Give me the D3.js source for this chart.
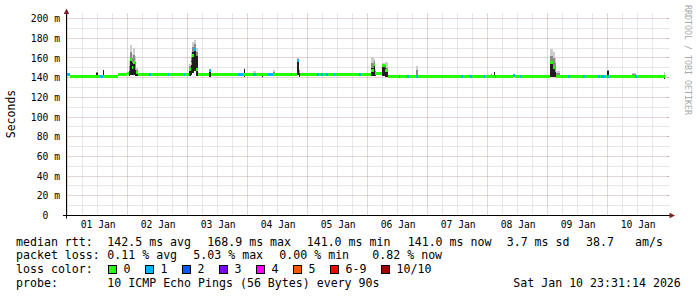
<!DOCTYPE html>
<html><head><meta charset="utf-8">
<script src="https://cdn.jsdelivr.net/npm/d3@7"></script>
<style>
html,body{margin:0;padding:0;background:#fff;}
svg{display:block;}
text{font-family:"DejaVu Sans Mono",monospace;fill:#000;white-space:pre;}
</style></head><body>
<svg id="chart" width="697" height="297"></svg>
<script>
// ---------------- DATA ----------------
const graphStart = Date.UTC(2025, 11, 31, 23, 31, 14);
const graphEnd   = Date.UTC(2026, 0, 10, 23, 31, 14);
const dataOrigin = Date.UTC(2026, 0, 1, 0, 0, 0); // hours below are counted from here
const dataEndHour = 239.1;

const yMajorTicks = [0, 20, 40, 60, 80, 100, 120, 140, 160, 180, 200];
const yTickLabels = ["0  ", "20 m", "40 m", "60 m", "80 m", "100 m", "120 m", "140 m", "160 m", "180 m", "200 m"];
const dayLabels = ["01 Jan", "02 Jan", "03 Jan", "04 Jan", "05 Jan", "06 Jan", "07 Jan", "08 Jan", "09 Jan", "10 Jan"];

// median rtt (ms) step series: start hour, value, lost pings (of 10)
const medHour = [-0.5, 0.9, 13.1, 14.1, 20.3, 23.7, 24.4, 25.0, 25.8, 26.3, 26.8, 27.4, 28.0,
  32.5, 33.4, 40.0, 40.7, 46.7, 47.1, 48.7, 49.3, 49.8, 50.7, 51.4, 52.2, 56.5, 57.3,
  68.2, 70.2, 74.2, 75.5, 80.3, 82.2, 89.2, 89.9, 91.9, 92.5, 93.0, 99.9, 100.4, 101.2, 102.2,
  103.5, 104.2, 106.7, 107.1, 116.6, 117.5, 121.5, 122.5, 123.1, 125.8, 126.8, 128.2,
  132.4, 133.1, 135.9, 136.4, 139.5, 140.3, 157.5, 158.2, 160.8, 161.8, 166.7, 167.1,
  170.8, 171.5, 178.2, 178.8, 180.8, 181.5, 193.1, 194.2, 194.8, 195.5, 200.2, 200.8,
  206.2, 206.8, 212.2, 212.8, 213.5, 214.8, 215.8, 216.7, 226.8, 227.9];
const medMs = [143, 141.5, 141.5, 141.5, 143, 144, 148, 158, 150, 155, 149, 145, 142.7,
  142.7, 142.7, 142.7, 142.7, 142.7, 142.7, 148, 154, 162.5, 168.5, 148, 142.7, 147, 142.7,
  142.7, 142.7, 142.7, 142.7, 142.7, 142.7, 142.7, 142.7, 157, 146, 142.7, 142.7, 142.7, 142.7, 142.7,
  142.7, 142.7, 142.7, 142.7, 143.5, 142.7, 147.5, 153, 144, 152, 147, 141,
  141, 141, 141, 141, 141, 141, 141, 141, 141, 141, 141, 141,
  141, 141, 142.5, 141, 141, 141, 155, 150, 147, 141, 141, 141,
  141, 141, 141, 141, 141, 141, 141, 141, 141, 141];
const medLoss = [1, 0, 1, 0, 0, 0, 0, 0, 0, 0, 0, 0, 0,
  1, 0, 1, 0, 1, 0, 0, 0, 0, 1, 0, 0, 1, 0,
  1, 0, 1, 0, 1, 0, 1, 0, 1, 0, 0, 1, 0, 1, 0,
  1, 0, 1, 0, 1, 0, 0, 0, 0, 0, 0, 0,
  1, 0, 1, 0, 1, 0, 1, 0, 1, 0, 1, 0,
  1, 0, 1, 0, 1, 0, 0, 0, 0, 0, 1, 0,
  1, 0, 1, 0, 1, 0, 1, 0, 1, 0];

// smoke (ping spread) columns: start hour, end hour, lowest ping, dark/mid/top levels (ms)
const smokeFrom = [11.5, 14.1, 24.4, 25.0, 25.8, 26.3, 26.8, 27.4, 48.7, 49.3, 49.8, 50.7, 51.4, 52.2,
  56.5, 70.5, 74.2, 77.8, 82.2, 91.9, 92.5, 121.3, 121.5, 122.5, 123.1, 125.8, 126.8, 127.5,
  134.2, 139.5, 160.7, 169.5, 170.4, 172.2, 180.8, 192.8, 193.1, 194.2, 194.8, 195.5,
  215.8, 218.2, 224.2, 225.8, 238.6];
const smokeTo = [12.1, 14.6, 25.0, 25.8, 26.3, 26.8, 27.4, 28.0, 49.3, 49.8, 50.7, 51.4, 52.2, 52.6,
  57.3, 71.1, 75.5, 78.3, 82.9, 92.5, 93.0, 121.5, 122.5, 123.1, 123.5, 126.8, 127.5, 128.2,
  135.5, 140.3, 160.9, 169.9, 170.8, 173.5, 181.5, 193.1, 194.2, 194.8, 195.5, 196.8,
  216.7, 219.5, 224.8, 227.5, 239.1];
const smokeLo = [141, 141, 142, 143, 143, 143, 142, 142, 142, 143, 145, 147, 142, 142,
  141, 141, 142, 141, 142, 143, 141, 142, 142, 142, 142, 142, 141, 141,
  141, 141, 141, 141, 141, 141, 141, 141, 141, 141, 141, 141,
  141, 141, 141, 141, 139];
const smokeDark = [145, 148, 149, 160, 155, 157, 151, 146, 150, 157, 166, 170, 162, 144,
  147, 149, 143, 145, 144, 157, 146, 145, 150, 153, 145, 153, 150, 146,
  141, 143, 142, 142, 146, 141.5, 143, 145, 156, 152, 148, 143,
  147, 141.5, 142.5, 142, 141];
const smokeMid = [146, 148, 152, 166, 160, 163, 156, 148, 152, 161, 171, 174, 166, 145,
  147, 149, 145, 145, 146, 159, 147, 150, 155, 157, 147, 154, 153, 150,
  142, 148, 143, 144, 146, 142, 143, 150, 162, 160, 155, 145,
  148, 142, 142.5, 144, 143];
const smokeTop = [146, 148, 156, 173, 164, 170, 162, 150, 154, 166, 176, 178, 170, 146,
  148, 150, 147, 145, 148, 160, 148, 155, 160.5, 159, 149, 155, 155.5, 155.5,
  143, 151.6, 144, 145, 146, 143, 143, 155, 169, 166, 160, 147,
  148, 143, 142.5, 145, 145.5];

const lossLabels = ["0", "1", "2", "3", "4", "5", "6-9", "10/10"];
const lossColors = ["#26ff00", "#00b8ff", "#0059ff", "#7e00ff", "#ff00ff", "#ff5500", "#ff0000", "#a10000"];

const legendRow1 = ["median rtt:", "142.5 ms avg", "168.9 ms max", "141.0 ms min", "141.0 ms now", "3.7 ms sd", "38.7", "am/s"];
const legendRow2 = ["packet loss:", "0.11 % avg", "5.03 % max", "0.00 % min", "0.82 % now"];
const legendRow3 = ["loss color:"];
const legendRow4 = ["probe:", "10 ICMP Echo Pings (56 Bytes) every 90s", "Sat Jan 10 23:31:14 2026"];
const yTitle = "Seconds";
const watermark = "RRDTOOL / TOBI OETIKER";

// ---------------- LAYOUT ----------------
const svg = d3.select("#chart");
const X0 = 66.5, X1 = 666.5, YB = 215.5, YT = 13.5;
const x = d3.scaleUtc().domain([new Date(graphStart), new Date(graphEnd)]).range([X0, X1]);
const y = d3.scaleLinear().domain([0, 200]).range([215.5, 18.5]);
const hr = h => new Date(dataOrigin + h * 3600e3);
const snap = v => Math.round(v - 0.5) + 0.5;

const minorCol = "rgba(140,140,140,0.4)", majorCol = "rgba(130,30,30,0.38)";

// grid
const g = svg.append("g");
const minorY = d3.range(10, 200, 20);
g.selectAll(".hmin").data(minorY).join("line")
  .attr("x1", X0).attr("x2", X1).attr("y1", d => snap(y(d))).attr("y2", d => snap(y(d)))
  .attr("stroke", minorCol).attr("stroke-dasharray", "1,1");
const hours6 = d3.utcHour.every(6).range(new Date(graphStart), new Date(graphEnd)).filter(d => d.getUTCHours() !== 0);
g.selectAll(".vmin").data(hours6).join("line")
  .attr("x1", d => snap(x(d))).attr("x2", d => snap(x(d))).attr("y1", YT).attr("y2", YB)
  .attr("stroke", minorCol).attr("stroke-dasharray", "1,1");
g.selectAll(".hmaj").data(yMajorTicks.slice(1)).join("line")
  .attr("x1", X0).attr("x2", X1).attr("y1", d => snap(y(d))).attr("y2", d => snap(y(d)))
  .attr("stroke", majorCol).attr("stroke-dasharray", "1,1");
const days = d3.utcDay.range(new Date(graphStart), new Date(graphEnd));
g.selectAll(".vmaj").data(days).join("line")
  .attr("x1", d => snap(x(d))).attr("x2", d => snap(x(d))).attr("y1", YT).attr("y2", YB)
  .attr("stroke", majorCol).attr("stroke-dasharray", "1,1");
// small end ticks
g.selectAll(".rt").data(yMajorTicks.slice(1)).join("line")
  .attr("x1", X1).attr("x2", X1 + 2.5).attr("y1", d => snap(y(d))).attr("y2", d => snap(y(d)))
  .attr("stroke", majorCol);
g.selectAll(".rtm").data(minorY).join("line")
  .attr("x1", X1).attr("x2", X1 + 2).attr("y1", d => snap(y(d))).attr("y2", d => snap(y(d)))
  .attr("stroke", minorCol);

// smoke
const sIdx = d3.range(smokeFrom.length);
const sm = svg.append("g").attr("shape-rendering", "crispEdges");
[[smokeTop, "#cdcdcd"], [smokeMid, "#8a8a8a"], [smokeDark, "#1e1e1e"]].forEach(([arr, col]) => {
  sm.append("g").selectAll("rect").data(sIdx).join("rect")
    .attr("x", i => x(hr(smokeFrom[i])))
    .attr("width", i => Math.max(1, x(hr(smokeTo[i])) - x(hr(smokeFrom[i]))))
    .attr("y", i => y(arr[i]))
    .attr("height", i => Math.max(0, y(smokeLo[i]) - y(arr[i])))
    .attr("fill", col);
});

// median line coloured by loss
const mIdx = d3.range(medHour.length);
svg.append("g").attr("shape-rendering", "crispEdges").selectAll("rect").data(mIdx).join("rect")
  .attr("x", i => x(hr(medHour[i])))
  .attr("width", i => x(hr(i + 1 < medHour.length ? medHour[i + 1] : dataEndHour)) - x(hr(medHour[i])))
  .attr("y", i => y(medMs[i]) - 1.5)
  .attr("height", 3)
  .attr("fill", i => lossColors[medLoss[i]]);

// axes
const yAxis = d3.axisLeft(y).tickValues(yMajorTicks).tickSize(0).tickPadding(6.5)
  .tickFormat((d, i) => yTickLabels[i]);
const ya = svg.append("g").attr("transform", `translate(${X0},0)`).call(yAxis);
ya.select(".domain").remove();
ya.selectAll("text").attr("font-family", "DejaVu Sans Mono").attr("font-size", "9.7px").attr("fill", "#000");

const noons = days.map(d => d3.utcHour.offset(d, 12));
const xAxis = d3.axisBottom(x).tickValues(noons).tickSize(0).tickPadding(5.5)
  .tickFormat((d, i) => dayLabels[i]);
const xa = svg.append("g").attr("transform", `translate(0,${YB})`).call(xAxis);
xa.select(".domain").remove();
xa.selectAll("text").attr("font-family", "DejaVu Sans Mono").attr("font-size", "9.7px").attr("fill", "#000");

// axis lines + arrows
svg.append("line").attr("x1", X0).attr("x2", X0).attr("y1", YT).attr("y2", 218.5).attr("stroke", "#000");
svg.append("line").attr("x1", 63).attr("x2", 670).attr("y1", YB).attr("y2", YB).attr("stroke", "#000");
svg.append("path").attr("d", `M${X0},8.5 L${X0 - 2.7},14 L${X0 + 2.7},14 Z`).attr("fill", "#7f1f1f");
svg.append("path").attr("d", `M675,${YB} L669.5,${YB - 2.7} L669.5,${YB + 2.7} Z`).attr("fill", "#7f1f1f");

// titles
svg.append("text").attr("transform", "translate(14.5,114) rotate(-90)")
  .attr("text-anchor", "middle").attr("font-size", "11.5px").text(yTitle);
svg.append("text").attr("transform", "translate(684.5,5) rotate(90)")
  .attr("font-size", "8.3px").style("fill", "#a8a8a8").text(watermark);

// legend
const fs = "11.6px";
const row1X = [16, 107.3, 207.3, 306.7, 407.7, 506.7, 586, 635];
const row2X = [16, 107.3, 193.3, 279.3, 372.3];
const row4X = [16, 107.3, 513.3];
const rowY = [245.5, 259.2, 273, 286.8];
const leg = svg.append("g").attr("font-size", fs);
leg.selectAll(".r1").data(legendRow1).join("text").attr("x", (d, i) => row1X[i]).attr("y", rowY[0]).text(d => d);
leg.selectAll(".r2").data(legendRow2).join("text").attr("x", (d, i) => row2X[i]).attr("y", rowY[1]).text(d => d);
leg.append("text").attr("x", 16).attr("y", rowY[2]).text(legendRow3[0]);
leg.selectAll(".r4").data(legendRow4).join("text").attr("x", (d, i) => row4X[i]).attr("y", rowY[3]).text(d => d);
const boxX = [108.5, 145.5, 182.5, 219.5, 256.5, 293.5, 330.5, 381.5];
const lg = leg.selectAll(".lc").data(lossLabels).join("g");
lg.append("rect").attr("x", (d, i) => boxX[i]).attr("y", 265.5).attr("width", 8).attr("height", 8)
  .attr("fill", (d, i) => lossColors[i]).attr("stroke", "#000").attr("stroke-width", 1);
lg.append("text").attr("x", (d, i) => boxX[i] + 15).attr("y", rowY[2]).text(d => d);
</script>
</body></html>
